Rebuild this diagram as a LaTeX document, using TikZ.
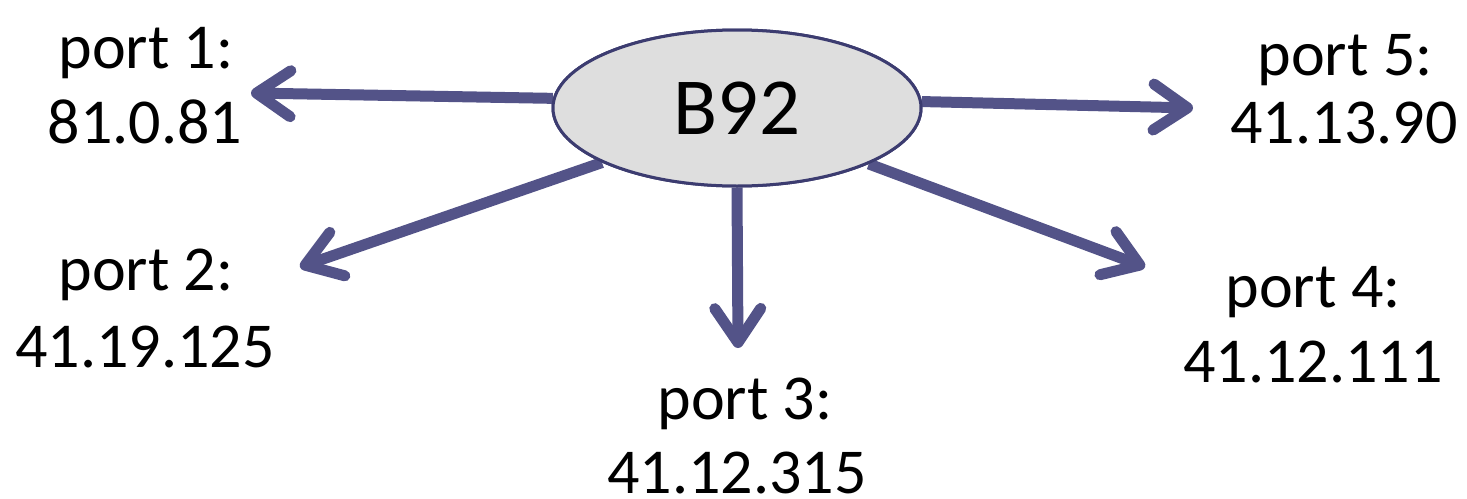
\documentclass[tikz,border=0pt]{standalone}
\usepackage{fontspec}
\setmainfont{Carlito}
\usetikzlibrary{shapes.geometric,arrows.meta}
\definecolor{arrowblue}{HTML}{535388}
\definecolor{ellborder}{HTML}{3C3C70}
\definecolor{ellfill}{HTML}{DEDEDE}
\tikzset{
  conn/.style={draw=arrowblue, line width=11pt,
    -{Straight Barb[round, length=34pt, width=46pt, line width=11pt]}},
  lbl/.style={anchor=base, inner sep=0pt, font=\fontsize{64}{76}\selectfont},
  hub/.style={ellipse, draw=ellborder, line width=3pt, fill=ellfill,
    minimum width=368pt, minimum height=156pt, inner sep=0pt,
    font=\fontsize{81}{96}\selectfont}
}
\begin{document}
\begin{tikzpicture}[x=1pt,y=-1pt]
\useasboundingbox (0,0) rectangle (1467,498);
\node[hub] (b) at (737,108) {\phantom{B92}};
% free ends
\coordinate (t1) at (251,93);
\coordinate (t2) at (300,267);
\coordinate (t3) at (738,348);
\coordinate (t4) at (1145,267);
\coordinate (t5) at (1193,108);
% connectors (drawn behind ellipse)
\draw[conn] (b.177.5) -- (t1);
\draw[conn] (b.202.6) -- (t2);
\draw[conn] (b.270) -- (t3);
\draw[conn] (b.337.4) -- (t4);
\draw[conn] (b.2.5) -- (t5);
% ellipse on top
\node[hub] (b2) at (737,108) {B92};
% labels
\node[lbl] (p1a) at (146,68) {port 1:};
\node[lbl] (p1b) at (145,143) {81.0.81};
\node[lbl] (p2a) at (146,290) {port 2:};
\node[lbl] (p2b) at (145,367) {41.19.125};
\node[lbl] (p3a) at (745,419) {port 3:};
\node[lbl, text depth=0pt] (p3b) at (737,493) {41.12.315};
\node[lbl] (p4a) at (1313,307) {port 4:};
\node[lbl] (p4b) at (1313,382) {41.12.111};
\node[lbl] (p5a) at (1345,75) {port 5:};
\node[lbl] (p5b) at (1344,143) {41.13.90};
\end{tikzpicture}
\end{document}
